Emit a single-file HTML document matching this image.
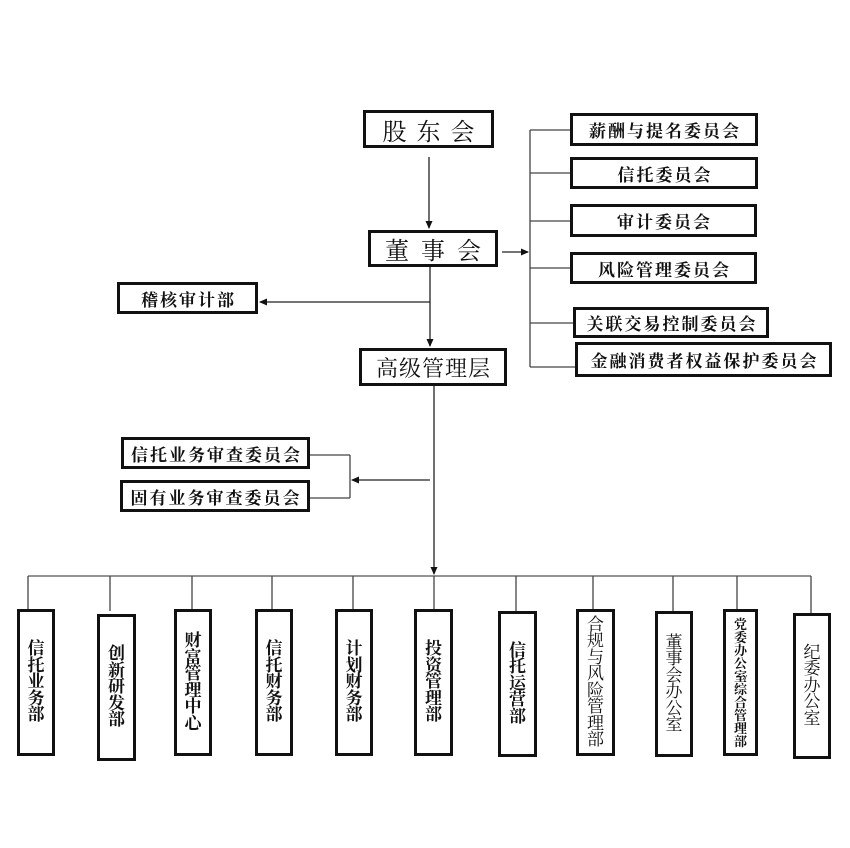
<!DOCTYPE html>
<html>
<head>
<meta charset="utf-8">
<style>
html,body{margin:0;padding:0;background:#fff;}
body{width:850px;height:848px;position:relative;overflow:hidden;font-family:"Liberation Serif","Noto Serif CJK SC",serif;color:#111;}
.b{position:absolute;box-sizing:border-box;border:3px solid #111;background:#fff;display:flex;align-items:center;justify-content:center;white-space:nowrap;}
.c{font-size:17px;font-weight:bold;letter-spacing:2px;padding-left:2px;}
.v{flex-direction:column;}
.vt{width:17px;font-size:17px;line-height:16.5px;font-weight:bold;text-align:center;white-space:normal;word-break:break-all;}
.n{font-weight:normal;}
svg{position:absolute;left:0;top:0;}
</style>
</head>
<body>
<svg width="850" height="848" viewBox="0 0 850 848">
<defs>
<marker id="ar" markerWidth="8" markerHeight="8" refX="7" refY="4" orient="auto" markerUnits="userSpaceOnUse">
<path d="M0,0.5 L8,4 L0,7.5 Z" fill="#111"/>
</marker>
</defs>
<g stroke="#222" stroke-width="1.3" fill="none">
<!-- shareholders to board -->
<line x1="429" y1="157" x2="429" y2="228" marker-end="url(#ar)"/>
<!-- board to committees -->
<line x1="502" y1="252" x2="528" y2="252" marker-end="url(#ar)"/>
<line x1="530" y1="130" x2="530" y2="367" stroke="#444"/>
<line x1="530" y1="130" x2="570" y2="130" stroke="#444"/>
<line x1="530" y1="173" x2="570" y2="173" stroke="#444"/>
<line x1="530" y1="221" x2="570" y2="221" stroke="#444"/>
<line x1="530" y1="268" x2="570" y2="268" stroke="#444"/>
<line x1="530" y1="323" x2="573" y2="323" stroke="#444"/>
<line x1="530" y1="367" x2="575" y2="367" stroke="#444"/>
<!-- board to senior mgmt -->
<line x1="430" y1="267" x2="430" y2="346" marker-end="url(#ar)"/>
<line x1="430" y1="302" x2="260" y2="302" marker-end="url(#ar)"/>
<!-- senior mgmt down -->
<line x1="434" y1="386" x2="434" y2="574" marker-end="url(#ar)"/>
<line x1="430" y1="480" x2="352" y2="480" marker-end="url(#ar)"/>
<line x1="310" y1="455" x2="350" y2="455" stroke="#444"/>
<line x1="350" y1="455" x2="350" y2="498" stroke="#444"/>
<line x1="310" y1="498" x2="350" y2="498" stroke="#444"/>
<!-- bottom bus -->
<line x1="28" y1="576" x2="811" y2="576" stroke="#555"/>
<g stroke="#444">
<line x1="28" y1="576" x2="28" y2="609"/>
<line x1="110" y1="576" x2="110" y2="611"/>
<line x1="192" y1="576" x2="192" y2="609"/>
<line x1="272" y1="576" x2="272" y2="609"/>
<line x1="353" y1="576" x2="353" y2="609"/>
<line x1="434" y1="576" x2="434" y2="609"/>
<line x1="516" y1="576" x2="516" y2="611"/>
<line x1="593" y1="576" x2="593" y2="609"/>
<line x1="673" y1="576" x2="673" y2="611"/>
<line x1="737" y1="576" x2="737" y2="609"/>
<line x1="811" y1="576" x2="811" y2="613"/>
</g>
</g>
</svg>

<!-- top boxes -->
<div class="b" style="left:363px;top:110px;width:131px;height:38px;font-size:24px;letter-spacing:10px;padding-left:10px;">股东会</div>
<div class="b" style="left:368px;top:230px;width:130px;height:37px;font-size:24px;letter-spacing:12px;padding-left:12px;">董事会</div>
<div class="b" style="left:359px;top:348px;width:148px;height:38px;font-size:22px;letter-spacing:1px;padding-left:1px;">高级管理层</div>

<!-- left boxes -->
<div class="b c" style="left:117px;top:282px;width:141px;height:32px;">稽核审计部</div>
<div class="b c" style="left:121px;top:437px;width:189px;height:32px;">信托业务审查委员会</div>
<div class="b c" style="left:120px;top:480px;width:190px;height:32px;">固有业务审查委员会</div>

<!-- committees -->
<div class="b c" style="left:570px;top:113px;width:188px;height:33px;">薪酬与提名委员会</div>
<div class="b c" style="left:570px;top:157px;width:188px;height:32px;">信托委员会</div>
<div class="b c" style="left:570px;top:204px;width:187px;height:33px;">审计委员会</div>
<div class="b c" style="left:570px;top:252px;width:187px;height:32px;">风险管理委员会</div>
<div class="b c" style="left:573px;top:307px;width:196px;height:31px;">关联交易控制委员会</div>
<div class="b c" style="left:575px;top:342px;width:257px;height:35px;">金融消费者权益保护委员会</div>

<!-- bottom departments -->
<div class="b v" style="left:17px;top:609px;width:38px;height:147px;"><div class="vt">信托业务部</div></div>
<div class="b v" style="left:97px;top:614px;width:39px;height:147px;"><div class="vt">创新研发部</div></div>
<div class="b v" style="left:174px;top:609px;width:38px;height:147px;"><div class="vt">财富管理中心</div></div>
<div class="b v" style="left:255px;top:609px;width:38px;height:147px;"><div class="vt">信托财务部</div></div>
<div class="b v" style="left:335px;top:609px;width:38px;height:147px;"><div class="vt">计划财务部</div></div>
<div class="b v" style="left:414px;top:609px;width:39px;height:147px;"><div class="vt">投资管理部</div></div>
<div class="b v" style="left:498px;top:611px;width:39px;height:146px;"><div class="vt">信托运营部</div></div>
<div class="b v" style="left:576px;top:609px;width:39px;height:147px;"><div class="vt n">合规与风险管理部</div></div>
<div class="b v" style="left:655px;top:611px;width:38px;height:146px;"><div class="vt n">董事会办公室</div></div>
<div class="b v" style="left:723px;top:609px;width:35px;height:147px;"><div class="vt" style="width:13px;font-size:13px;line-height:13px;">党委办公室综合管理部</div><span style="position:absolute;left:18px;top:63px;font-size:10px;line-height:10px;font-weight:bold;">/</span></div>
<div class="b v" style="left:793px;top:613px;width:38px;height:146px;"><div class="vt n">纪委办公室</div></div>
</body>
</html>
